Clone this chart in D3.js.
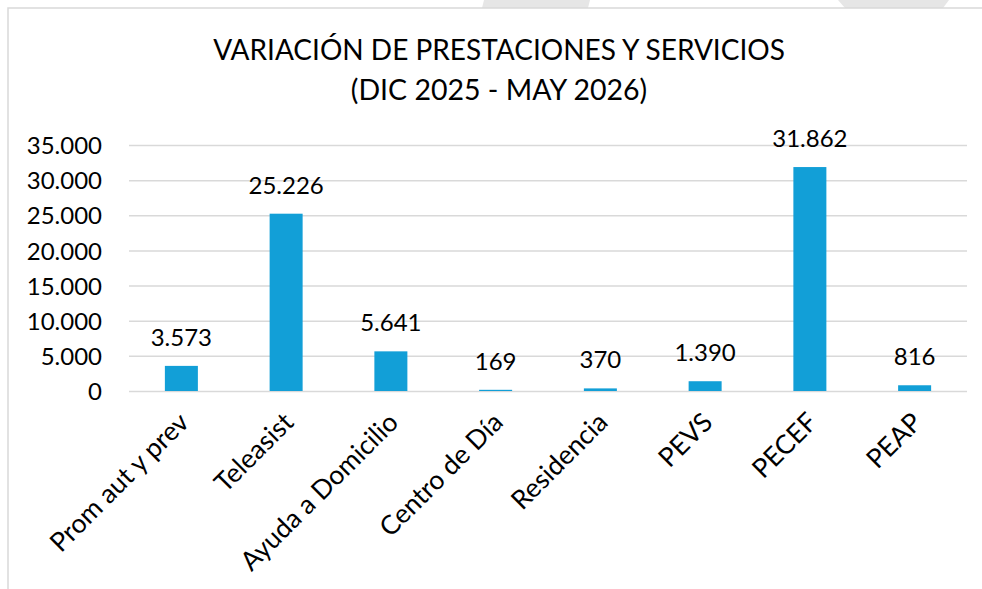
<!DOCTYPE html>
<html>
<head>
<meta charset="utf-8">
<script src="https://cdn.jsdelivr.net/npm/d3@7"></script>
<style>
  html, body { margin: 0; padding: 0; background: #ffffff; }
  svg { display: block; font-family: Lato, "Open Sans", sans-serif; }
</style>
</head>
<body>
<svg id="chart" width="982" height="589"></svg>
<script>
const categories = ["Prom aut y prev", "Teleasist", "Ayuda a Domicilio", "Centro de Día", "Residencia", "PEVS", "PECEF", "PEAP"];
const values = [3573, 25226, 5641, 169, 370, 1390, 31862, 816];
const yTicks = [0, 5000, 10000, 15000, 20000, 25000, 30000, 35000];
const titleLines = ["VARIACIÓN DE PRESTACIONES Y SERVICIOS", "(DIC 2025 - MAY 2026)"];

const fmt = v => d3.format(",")(v).replace(/,/g, ".");

const svg = d3.select("#chart");

// slide background decoration above the chart box
svg.append("polygon").attr("points", "484,0 590,0 588,8 482,8").attr("fill", "#e6e6e6");
svg.append("polygon").attr("points", "838,0 949,0 943,8 845,8").attr("fill", "#e6e6e6");

// chart box border
svg.append("rect").attr("x", 8).attr("y", 8).attr("width", 990).attr("height", 600)
  .attr("fill", "#ffffff").attr("stroke", "#d9d9d9").attr("stroke-width", 1.5);

const plot = { left: 129, right: 967, top: 145, bottom: 391 };

const x = d3.scaleBand().domain(categories).range([plot.left, plot.right])
  .paddingInner(0.685).paddingOuter(0.3425);
const y = d3.scaleLinear().domain([0, 35000]).range([plot.bottom, plot.top]);

// title
svg.append("g").selectAll("text").data(titleLines).join("text")
  .attr("x", 499).attr("y", (d, i) => i === 0 ? 60 : 100)
  .attr("text-anchor", "middle").attr("font-size", (d, i) => i === 0 ? 28 : 28.5).attr("fill", "#000")
  .text(d => d);

// y axis with gridlines
const yAxis = svg.append("g").attr("transform", `translate(${plot.left},0)`)
  .call(d3.axisLeft(y).tickValues(yTicks).tickFormat(fmt)
    .tickSize(-(plot.right - plot.left)).tickPadding(27));
yAxis.select(".domain").remove();
yAxis.selectAll(".tick line").attr("stroke", "#d9d9d9").attr("stroke-width", 1.5);
yAxis.selectAll(".tick text").attr("font-size", 24).attr("fill", "#000")
  .attr("font-family", "Lato, sans-serif").attr("dy", "0.36em");

// bars
svg.append("g").selectAll("rect").data(values).join("rect")
  .attr("x", (d, i) => x(categories[i]))
  .attr("width", x.bandwidth())
  .attr("y", d => y(d))
  .attr("height", d => y(0) - y(d))
  .attr("fill", "#129fd7");

// data labels
svg.append("g").selectAll("text").data(values).join("text")
  .attr("x", (d, i) => x(categories[i]) + x.bandwidth() / 2)
  .attr("y", d => y(d) - 20)
  .attr("text-anchor", "middle").attr("font-size", 24).attr("fill", "#000")
  .text(d => fmt(d));

// x axis labels
const xAxis = svg.append("g").attr("transform", `translate(0,${plot.bottom})`)
  .call(d3.axisBottom(x).tickSize(0).tickPadding(0));
xAxis.select(".domain").remove();
xAxis.selectAll(".tick text")
  .attr("font-size", 26.5).attr("font-family", "Lato, sans-serif").attr("fill", "#000")
  .attr("text-anchor", "end").attr("dy", 0)
  .attr("transform", "translate(9,33) rotate(-45)");
</script>
</body>
</html>
